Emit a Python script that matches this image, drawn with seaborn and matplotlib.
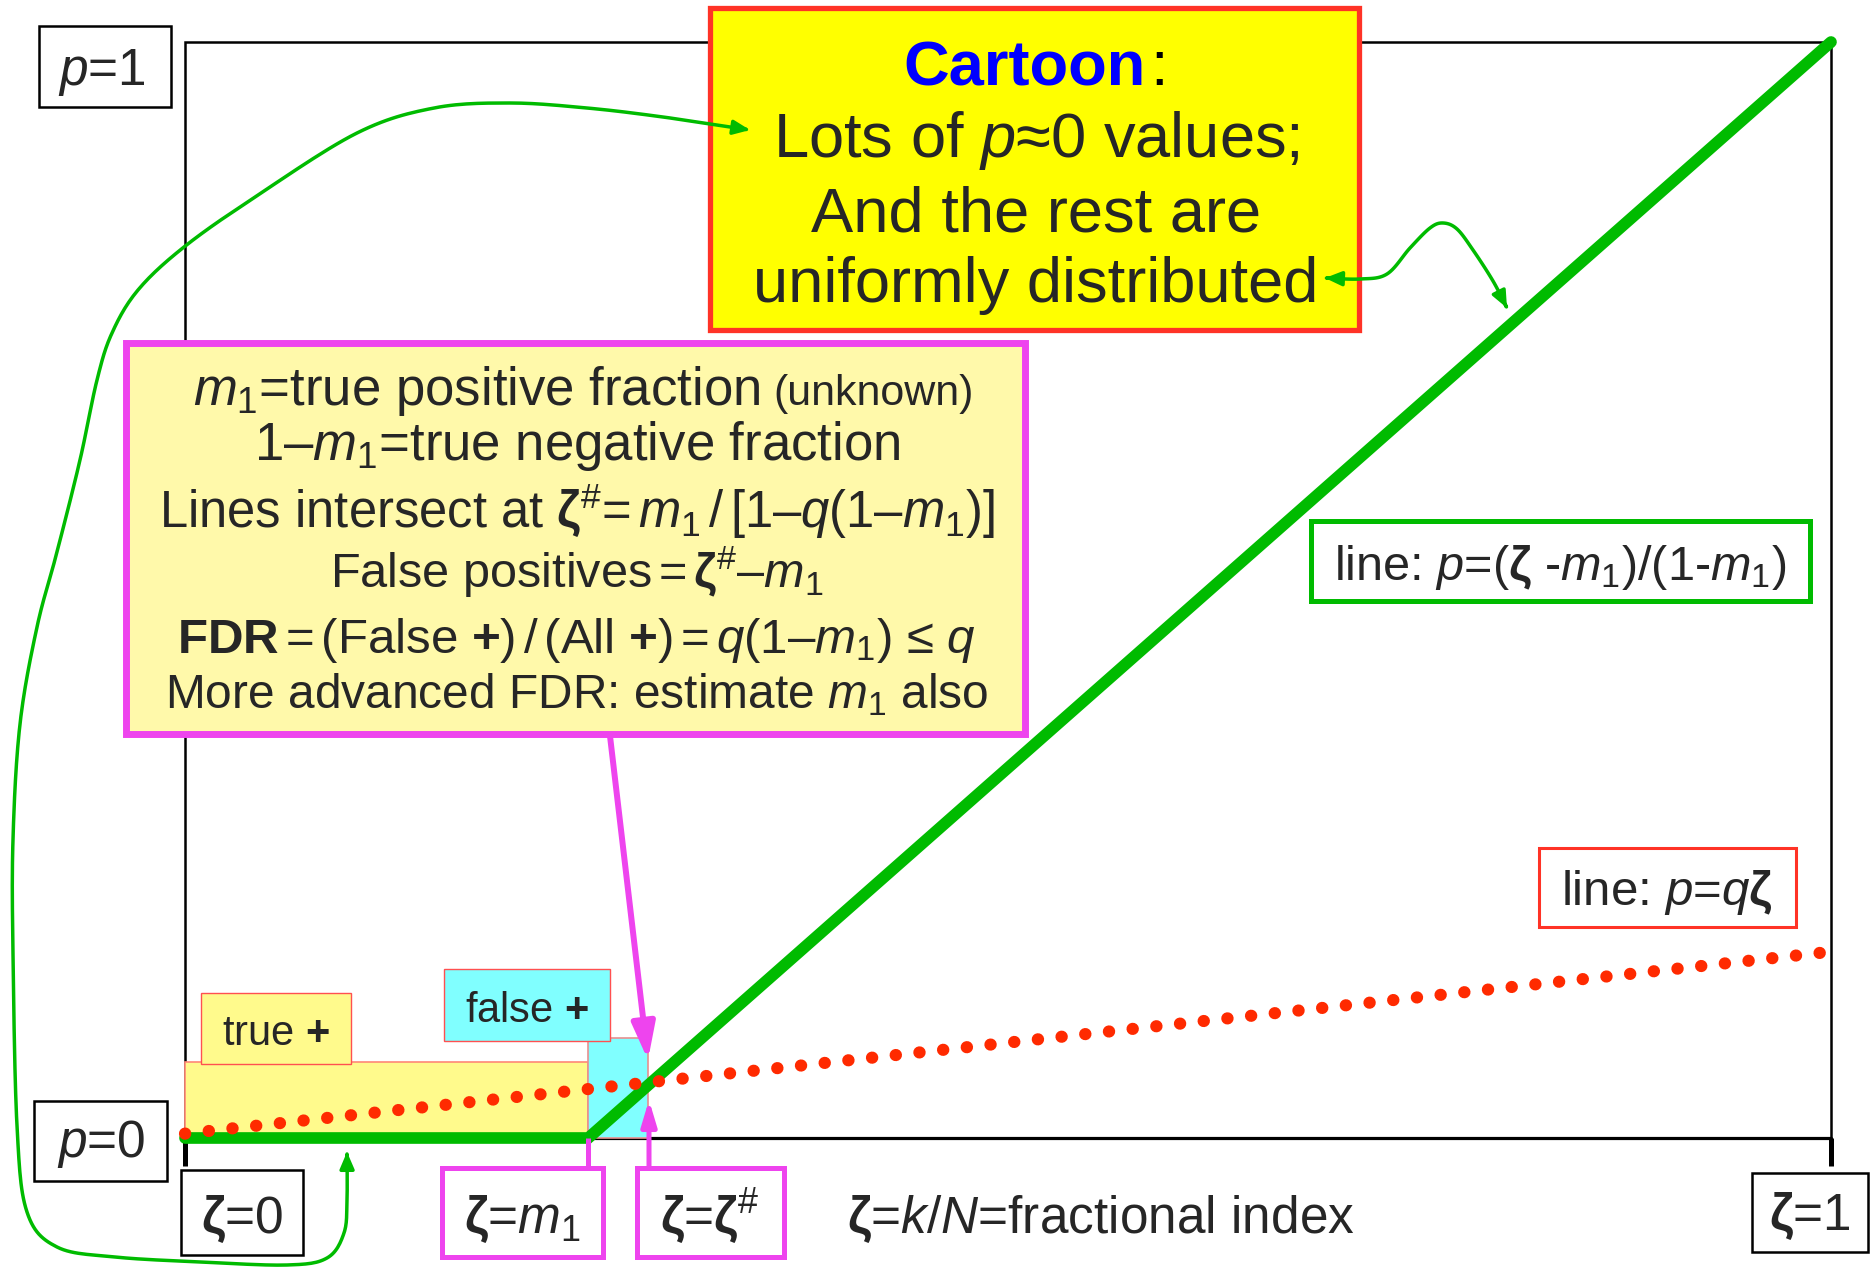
import numpy as np
import matplotlib
matplotlib.use("Agg")
import matplotlib.pyplot as plt
import seaborn as sns
from matplotlib.patches import Rectangle, FancyArrowPatch
from matplotlib.path import Path

# ---------------- data ----------------
m1 = 0.245          # true positive fraction (kink of green line)
q = 0.17            # FDR level (slope of red dotted line)
zeta_green = [0.0, m1, 1.0]
p_green = [0.0, 0.0, 1.0]
zeta_red = [0.0, 1.0]
p_red = [0.004, q]
zeta_sharp = m1 / (1 - q * (1 - m1))
tp_height = 0.069   # shaded "true +" region height
fp_height = 0.091   # shaded "false +" region height

# ---------------- style ----------------
sns.set_theme(style="white")
plt.rcParams["font.family"] = ["Liberation Sans", "DejaVu Sans"]
plt.rcParams["mathtext.fontset"] = "custom"
plt.rcParams["mathtext.rm"] = "Liberation Sans"
plt.rcParams["mathtext.it"] = "Liberation Sans:italic"
plt.rcParams["mathtext.bf"] = "Liberation Sans:bold"
plt.rcParams["mathtext.sf"] = "Liberation Sans"

GREEN = "#00BB00"
RED = "#FF2A00"
MAG = "#EE44EE"
BOXRED = "#FF3326"

W, H = 1872, 1270
fig = plt.figure(figsize=(W / 100, H / 100), dpi=100)
ax = fig.add_axes([0, 0, 1, 1])

# reference-pixel -> data helper (frame: x 185..1831, y 1138..42)
FX0, FX1, FY0, FY1 = 185.0, 1831.0, 1138.0, 42.0
def P(x, y):
    return ((x - FX0) / (FX1 - FX0), (FY0 - y) / (FY0 - FY1))

def box(x0, y0, x1, y1, fc="white", ec="black", lw=1.8, z=5):
    a = P(x0, y1)
    b = P(x1, y0)
    ax.add_patch(Rectangle(a, b[0] - a[0], b[1] - a[1], facecolor=fc,
                           edgecolor=ec, linewidth=lw, zorder=z))

def txt(x, y, s, size, ha="center", z=6, **kw):
    ax.text(*P(x, y), s, fontsize=size, ha=ha, va="baseline", zorder=z, **kw)

def catmull(pts, n=14):
    pts = np.asarray([P(*p) for p in pts], float)
    Q = np.vstack([pts[0], pts, pts[-1]])
    out = []
    t = np.linspace(0, 1, n, endpoint=False)[:, None]
    for i in range(1, len(Q) - 2):
        p0, p1, p2, p3 = Q[i - 1], Q[i], Q[i + 1], Q[i + 2]
        out.append(0.5 * ((2 * p1) + (-p0 + p2) * t
                          + (2 * p0 - 5 * p1 + 4 * p2 - p3) * t ** 2
                          + (-p0 + 3 * p1 - 3 * p2 + p3) * t ** 3))
    out.append(Q[-2][None])
    return np.vstack(out)

# ---------------- frame ----------------
ax.add_patch(Rectangle((0, 0), 1, 1, fill=False, edgecolor="black",
                       linewidth=1.8, zorder=1))
ax.plot([0, 1], [0, 0], color="black", lw=2.3, zorder=1)
for xv in (0.0, 1.0):
    ax.plot([xv, xv], [0, P(0, 1166)[1]], color="black", lw=3.6,
            solid_capstyle="butt", zorder=1)

# shaded regions
ax.add_patch(Rectangle((0, 0), m1, tp_height, facecolor="#FFFA8C",
                       edgecolor="#FF8877", linewidth=1.2, zorder=2))
ax.add_patch(Rectangle((m1, 0), zeta_sharp - m1, fp_height, facecolor="#80FFFF",
                       edgecolor="#E89090", linewidth=1.2, zorder=2))

# ---------------- lines (seaborn) ----------------
sns.lineplot(x=zeta_green, y=p_green, ax=ax, color=GREEN, linewidth=8.4,
             solid_joinstyle="miter", zorder=3)
sns.lineplot(x=zeta_red, y=p_red, ax=ax, color=RED, linewidth=8.8,
             linestyle=(0, (0.02, 1.93)), dash_capstyle="round", zorder=4)

# ---------------- cartoon box ----------------
box(710, 8, 1359, 330, fc="#FFFF00", ec=BOXRED, lw=3.8, z=5)
txt(1146, 85, "Cartoon", 45.5, ha="right", color="#0000FF", fontweight="bold")
txt(1150, 85, ":", 45.5, ha="left", color="black")
txt(1036, 157, r"Lots of $p$≈0 values;", 45.5)
txt(1036, 231, "And the rest are", 45.5)
txt(1036, 302, "uniformly distributed", 45.5)

# ---------------- magenta explanation box ----------------
box(126, 343, 1025, 734, fc="#FFF9AA", ec=MAG, lw=5, z=5)
txt(760, 405, r"$m_1$=true positive fraction", 38, ha="right")
txt(773, 405, "(unknown)", 31, ha="left")
txt(577, 460, r"1–$m_1$=true negative fraction", 38)
txt(577, 528, r"Lines intersect at $\mathbf{\zeta}^{\#}$=$\,m_1\,$/$\,$[1–$q$(1–$m_1$)]", 36.5)
txt(577, 588, r"False positives$\,$=$\,\mathbf{\zeta}^{\#}$–$m_1$", 35)
txt(577, 653, r"$\mathbf{FDR}\,$=$\,$(False $\mathbf{+}$)$\,$/$\,$(All $\mathbf{+}$)$\,$=$\,q$(1–$m_1$) ≤ $q$", 35.5)
txt(577, 708, r"More advanced FDR: estimate $m_1$ also", 34.5)

# ---------------- line labels ----------------
box(1311, 521, 1810, 601, fc="white", ec=GREEN, lw=3.6, z=5)
txt(1560, 580, r"line: $p$=($\mathbf{\zeta}$ -$m_1$)/(1-$m_1$)", 35)
box(1539, 848, 1796, 927, fc="white", ec=BOXRED, lw=2.2, z=5)
txt(1667, 905, r"line: $p$=$q\mathbf{\zeta}$", 35.5)

# ---------------- region labels ----------------
box(201, 993, 351, 1064, fc="#FFFA8C", ec="#FF5050", lw=1.0, z=5)
txt(276, 1045, r"true $\mathbf{+}$", 30)
box(444, 969, 610, 1041, fc="#80FFFF", ec="#FF5050", lw=1.0, z=5)
txt(527, 1022, r"false $\mathbf{+}$", 30)

# ---------------- axis labels ----------------
box(39, 26, 171, 107, lw=1.8)
txt(102, 85, r"$p$=1", 37)
box(34, 1101, 167, 1181, lw=1.8)
txt(101, 1157, r"$p$=0", 37)
box(181, 1170, 303, 1255, lw=1.8)
txt(242, 1233, r"$\mathbf{\zeta}$=0", 37)
box(442, 1168, 603, 1257, ec=MAG, lw=3.6)
txt(522, 1233, r"$\mathbf{\zeta}$=$m_1$", 37)
box(637, 1168, 784, 1257, ec=MAG, lw=3.6)
txt(710, 1233, r"$\mathbf{\zeta}$=$\mathbf{\zeta}^{\#}$", 37)
txt(847, 1233, r"$\mathbf{\zeta}$=$k$/$N$=fractional index", 37, ha="left")
box(1752, 1173, 1868, 1252, lw=1.8)
txt(1810, 1230, r"$\mathbf{\zeta}$=1", 37)

# ---------------- magenta arrows ----------------
ax.plot([m1, m1], [0, P(0, 1168)[1]], color=MAG, lw=3.6, zorder=3,
        solid_capstyle="butt")
ax.annotate("", xy=P(648, 1060), xytext=P(610, 736),
            arrowprops=dict(arrowstyle="-|>,head_length=22,head_width=7",
                            mutation_scale=1, color=MAG, lw=4.3,
                            shrinkA=0, shrinkB=0), zorder=6)
ax.annotate("", xy=P(649, 1100), xytext=P(649, 1168),
            arrowprops=dict(arrowstyle="-|>,head_length=15,head_width=4.5",
                            mutation_scale=1, color=MAG, lw=3.6,
                            shrinkA=0, shrinkB=0), zorder=6)

# ---------------- green curvy arrows ----------------
curve_a = [(750, 130), (663, 117), (587, 108), (510, 103), (434, 108),
           (357, 133), (255, 197), (184, 247), (138, 290), (112, 333),
           (97, 380), (80, 460), (57, 552), (37, 627), (20, 724), (13, 839),
           (13, 954), (17, 1126), (27, 1212), (57, 1247), (115, 1257),
           (201, 1262), (287, 1265), (327, 1258), (344, 1233), (347, 1200),
           (347, 1152)]
curve_b = [(1325, 278), (1360, 279), (1387, 274), (1410, 248), (1430, 228),
           (1443, 223), (1457, 229), (1473, 250), (1493, 281), (1507, 308)]
for cv in (curve_a, curve_b):
    verts = catmull(cv)
    arr = FancyArrowPatch(path=Path(verts),
                          arrowstyle="<|-|>,head_length=10,head_width=4.3",
                          mutation_scale=1, color=GREEN, lw=2.5,
                          shrinkA=0, shrinkB=0, zorder=7)
    ax.add_patch(arr)

ax.set_xlim(P(0, 0)[0], P(W, 0)[0])
ax.set_ylim(P(0, H)[1], P(0, 0)[1])
ax.axis("off")

fig.savefig("out.png", dpi=100)
